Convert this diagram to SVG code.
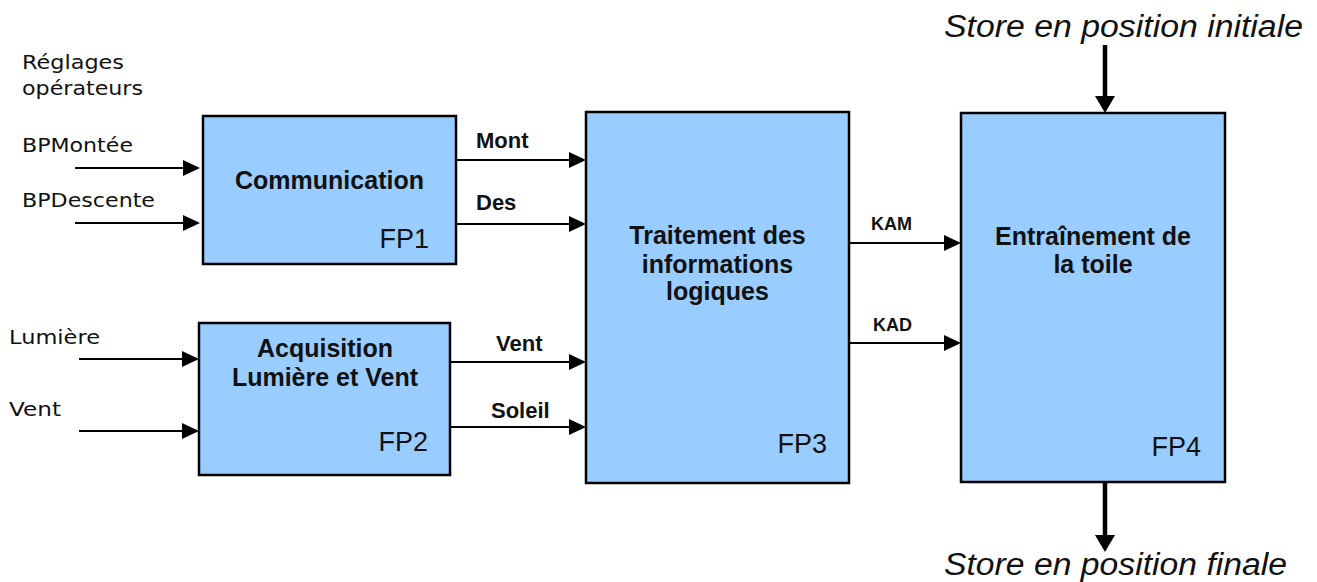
<svg xmlns="http://www.w3.org/2000/svg" width="1317" height="582" viewBox="0 0 1317 582">
<style>
.box{fill:#99CCFF;stroke:#000;stroke-width:2.5}
.t{font-family:"Liberation Sans",Arial,sans-serif;fill:#111}
.b{font-weight:bold;font-size:25px;text-anchor:middle}
.fp{font-size:27px;text-anchor:end}
.lb{font-weight:bold;font-size:22px}
.k{font-weight:bold;font-size:18px}
.in{font-family:"DejaVu Sans",Verdana,sans-serif;font-size:20px;fill:#111}
.it{font-style:italic;font-size:31px}
.thin{stroke:#000;stroke-width:2;fill:none}
.thick{stroke:#000;stroke-width:4.5;fill:none}
</style>
<defs>
<marker id="ah" markerUnits="userSpaceOnUse" markerWidth="17" markerHeight="16" refX="0" refY="8" orient="auto">
<path d="M0,0 L17,8 L0,16 z" fill="#000"/>
</marker>
<marker id="ahb" markerUnits="userSpaceOnUse" markerWidth="17" markerHeight="20" refX="0" refY="10" orient="auto">
<path d="M0,0 L17,10 L0,20 z" fill="#000"/>
</marker>
</defs>
<rect width="1317" height="582" fill="#fff"/>

<g id="labels-in">
<text class="in" x="22" y="69" textLength="102" lengthAdjust="spacingAndGlyphs">Réglages</text>
<text class="in" x="22" y="95" textLength="121" lengthAdjust="spacingAndGlyphs">opérateurs</text>
<text class="in" x="22" y="152" textLength="111" lengthAdjust="spacingAndGlyphs">BPMontée</text>
<text class="in" x="22" y="207" textLength="133" lengthAdjust="spacingAndGlyphs">BPDescente</text>
<text class="in" x="9" y="344" textLength="91" lengthAdjust="spacingAndGlyphs">Lumière</text>
<text class="in" x="9" y="416" textLength="52" lengthAdjust="spacingAndGlyphs">Vent</text>
</g>

<g id="FP1">
<rect class="box" x="203" y="116" width="253" height="148"/>
<text class="t b" x="329.5" y="189">Communication</text>
<text class="t fp" x="429" y="248">FP1</text>
</g>

<g id="FP2">
<rect class="box" x="199" y="323" width="251" height="152"/>
<text class="t b" x="325" y="357">Acquisition</text>
<text class="t b" x="325" y="386">Lumière et Vent</text>
<text class="t fp" x="428" y="451">FP2</text>
</g>

<g id="FP3">
<rect class="box" x="586" y="112" width="263" height="371"/>
<text class="t b" x="717.5" y="244">Traitement des</text>
<text class="t b" x="717.5" y="273">informations</text>
<text class="t b" x="717.5" y="300">logiques</text>
<text class="t fp" x="827" y="453">FP3</text>
</g>

<g id="FP4">
<rect class="box" x="961" y="113" width="264" height="369"/>
<text class="t b" x="1093" y="245">Entraînement de</text>
<text class="t b" x="1093" y="273">la toile</text>
<text class="t fp" x="1201" y="456">FP4</text>
</g>

<g id="connectors">
<line class="thin" x1="75" y1="168" x2="183" y2="168" marker-end="url(#ah)"/>
<line class="thin" x1="75" y1="223" x2="183" y2="223" marker-end="url(#ah)"/>
<line class="thin" x1="79" y1="359" x2="182" y2="359" marker-end="url(#ah)"/>
<line class="thin" x1="79" y1="431" x2="182" y2="431" marker-end="url(#ah)"/>
<line class="thin" x1="456" y1="160" x2="569" y2="160" marker-end="url(#ah)"/>
<line class="thin" x1="456" y1="224" x2="569" y2="224" marker-end="url(#ah)"/>
<line class="thin" x1="450" y1="362" x2="569" y2="362" marker-end="url(#ah)"/>
<line class="thin" x1="450" y1="427" x2="569" y2="427" marker-end="url(#ah)"/>
<line class="thin" x1="849" y1="243" x2="944" y2="243" marker-end="url(#ah)"/>
<line class="thin" x1="849" y1="343" x2="944" y2="343" marker-end="url(#ah)"/>
<line class="thick" x1="1105" y1="45" x2="1105" y2="96" marker-end="url(#ahb)"/>
<line class="thick" x1="1105" y1="483" x2="1105" y2="535" marker-end="url(#ahb)"/>
</g>

<g id="connector-labels">
<text class="t lb" x="476" y="148">Mont</text>
<text class="t lb" x="476" y="210">Des</text>
<text class="t lb" x="496" y="351">Vent</text>
<text class="t lb" x="491" y="418">Soleil</text>
<text class="t k" x="871" y="230">KAM</text>
<text class="t k" x="873" y="331">KAD</text>
</g>

<g id="io-labels">
<text class="t it" x="944" y="37" textLength="359" lengthAdjust="spacingAndGlyphs">Store en position initiale</text>
<text class="t it" x="944" y="575" textLength="343" lengthAdjust="spacingAndGlyphs">Store en position finale</text>
</g>
</svg>
